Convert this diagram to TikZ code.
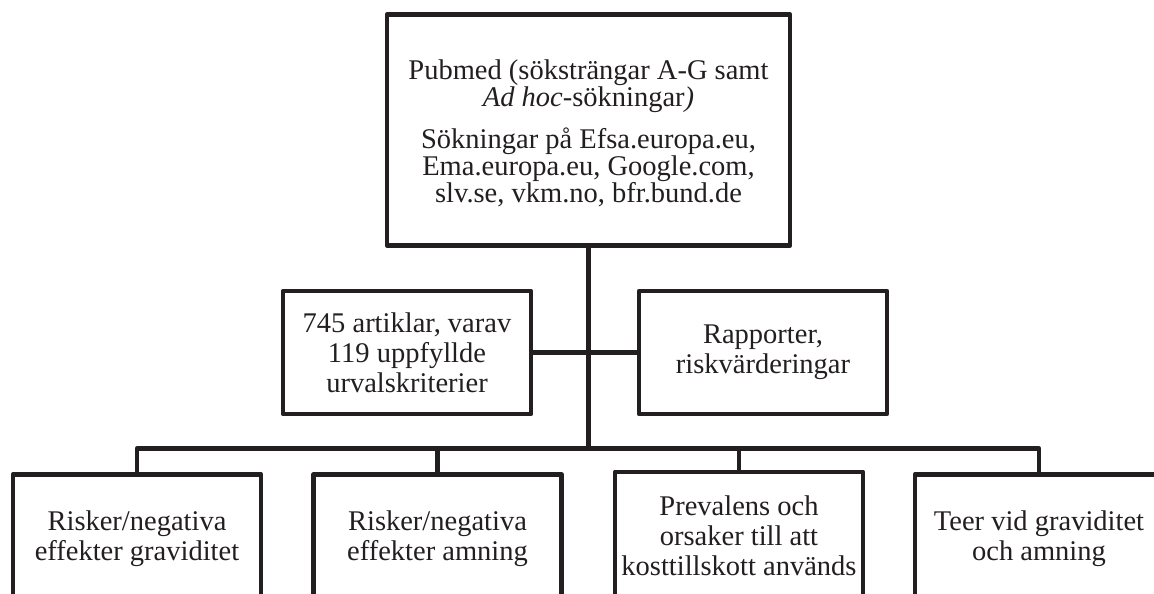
\documentclass[tikz,border=0pt]{standalone}
\usepackage{fontspec}
\setmainfont{Liberation Serif}
\definecolor{ink}{HTML}{231F20}
\begin{document}
\begin{tikzpicture}[x=1pt,y=-1pt,
  box/.style={draw=ink, line width=4.5pt, line join=round, fill=white, inner sep=0pt,
    align=center, text=ink, font=\fontsize{28.5}{30}\selectfont},
  topbox/.style={box, minimum width=403pt, minimum height=231pt},
  midbox/.style={box, minimum width=248pt, minimum height=123pt},
  botbox/.style={box, minimum width=248pt, minimum height=128.5pt},
  line/.style={anchor=base, inner sep=0pt, text=ink, font=\fontsize{28.5}{30}\selectfont},
  conn/.style={draw=ink, line width=4.5pt, line join=round}]
\clip (0,0) rectangle (1154,594);
\fill[white] (0,0) rectangle (1154,594);
% nodes
\node[topbox] (top) at (588.5,130) {};
\node[line] (t1) at (588.5,80) {Pubmed (söksträngar A-G samt};
\node[line] (t2) at (588.5,106.5) {\textit{Ad hoc}-sökningar\textit{)}};
\node[line] (t3) at (588.5,148) {Sökningar på Efsa.europa.eu,};
\node[line] (t4) at (588.5,175) {Ema.europa.eu, Google.com,};
\node[line] (t5) at (588.5,202) {slv.se, vkm.no, bfr.bund.de};
\node[midbox] (ml) at (407,352.5) {745 artiklar, varav\\ 119 uppfyllde\\ urvalskriterier};
\node[midbox] (mr) at (763,352.5) {Rapporter,\\ riskvärderingar};
\node[botbox] (b1) at (137,538.5) {Risker/negativa\\ effekter graviditet};
\node[botbox] (b2) at (437.5,538.5) {Risker/negativa\\ effekter amning};
\node[botbox] (b3) at (739,536) {Prevalens och\\ orsaker till att\\ kosttillskott används};
\node[botbox] (b4) at (1039,538.5) {Teer vid graviditet\\ och amning};
\coordinate (bus) at (588.5,448.7);
% connectors
\draw[conn] (top.south) -- (bus);
\draw[conn] (ml.east) -- (mr.west);
\draw[conn] (b1.north) |- (bus) -| (b4.north);
\draw[conn] (b2.north) -- (b2.north |- bus);
\draw[conn] (b3.north) -- (b3.north |- bus);
\end{tikzpicture}
\end{document}
